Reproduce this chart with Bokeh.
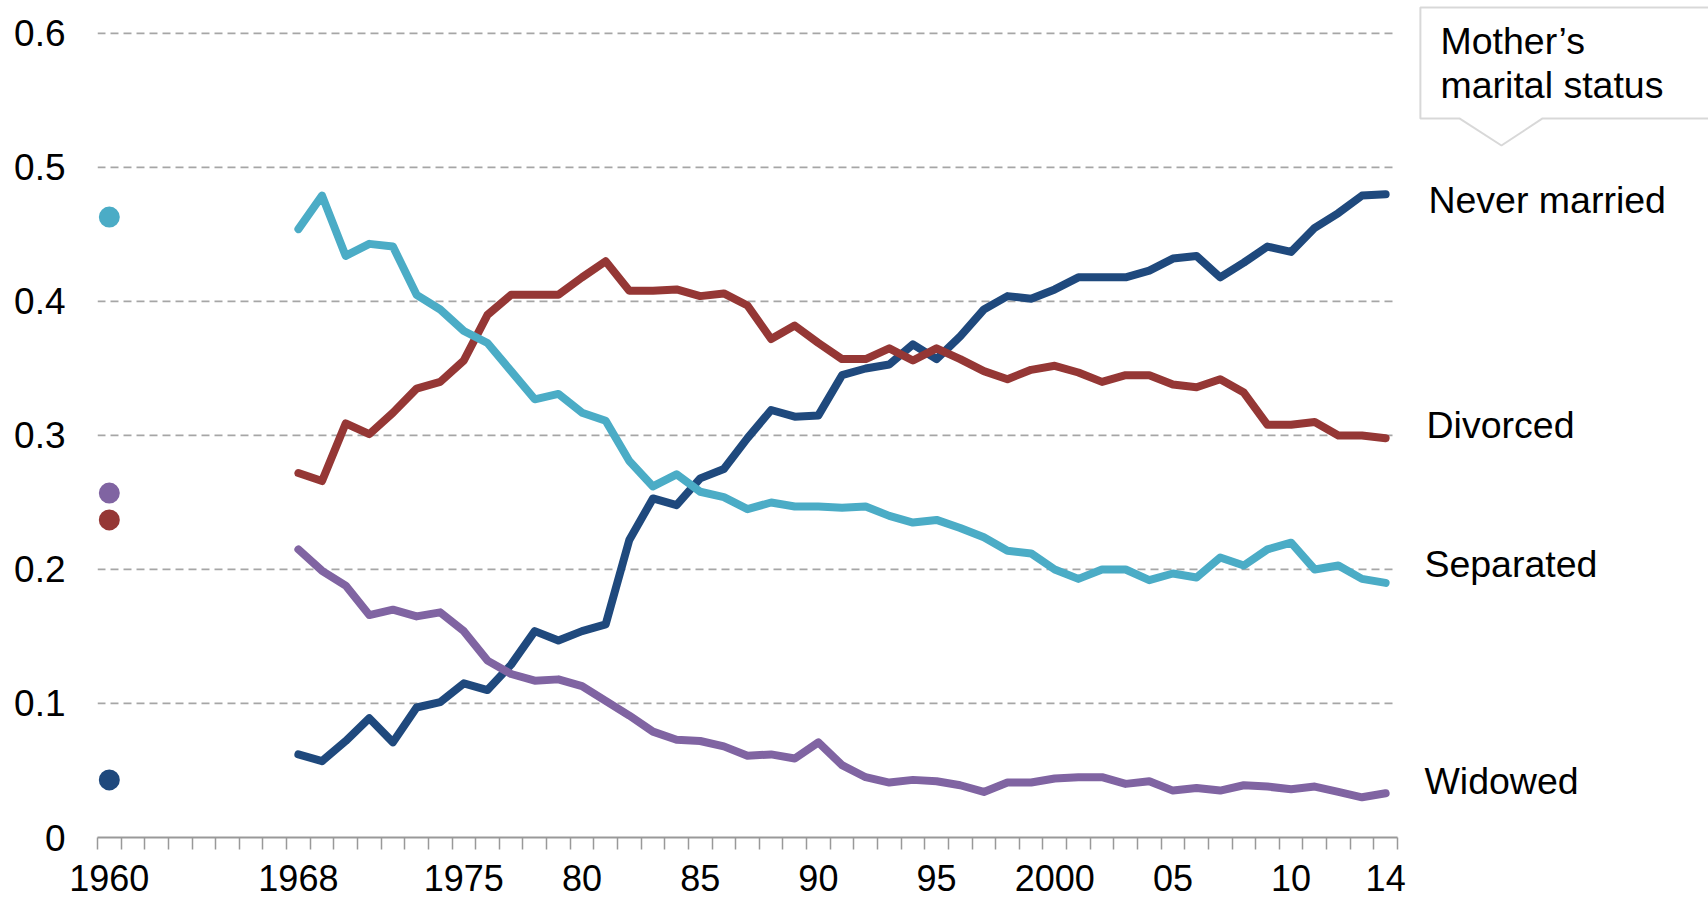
from bokeh.plotting import figure
from bokeh.models import Range1d, FixedTicker, Label, PolyAnnotation
from bokeh.embed import file_html
from bokeh.resources import INLINE

# ---- data ----
years = list(range(1968, 2015))
never_married = [0.062, 0.057, 0.072, 0.089, 0.071, 0.097, 0.101, 0.115, 0.110, 0.129,
                 0.154, 0.147, 0.154, 0.159, 0.222, 0.253, 0.248, 0.268, 0.275, 0.298,
                 0.319, 0.314, 0.315, 0.345, 0.350, 0.353, 0.368, 0.357, 0.374, 0.394,
                 0.404, 0.402, 0.409, 0.418, 0.418, 0.418, 0.423, 0.432, 0.434, 0.418,
                 0.429, 0.441, 0.437, 0.455, 0.466, 0.479, 0.480]
divorced = [0.272, 0.266, 0.309, 0.301, 0.317, 0.335, 0.340, 0.356, 0.390, 0.405,
            0.405, 0.405, 0.418, 0.430, 0.408, 0.408, 0.409, 0.404, 0.406, 0.397,
            0.372, 0.382, 0.369, 0.357, 0.357, 0.365, 0.356, 0.365, 0.357, 0.348,
            0.342, 0.349, 0.352, 0.347, 0.340, 0.345, 0.345, 0.338, 0.336, 0.342,
            0.332, 0.308, 0.308, 0.310, 0.300, 0.300, 0.298]
separated = [0.454, 0.479, 0.434, 0.443, 0.441, 0.405, 0.394, 0.378, 0.369, 0.348,
             0.327, 0.331, 0.317, 0.311, 0.281, 0.262, 0.271, 0.258, 0.254, 0.245,
             0.250, 0.247, 0.247, 0.246, 0.247, 0.240, 0.235, 0.237, 0.231, 0.224,
             0.214, 0.212, 0.200, 0.193, 0.200, 0.200, 0.192, 0.197, 0.194, 0.209,
             0.203, 0.215, 0.220, 0.200, 0.203, 0.193, 0.190]
widowed = [0.215, 0.199, 0.188, 0.166, 0.170, 0.165, 0.168, 0.154, 0.132, 0.122,
           0.117, 0.118, 0.113, 0.102, 0.091, 0.079, 0.073, 0.072, 0.068, 0.061,
           0.062, 0.059, 0.071, 0.054, 0.045, 0.041, 0.043, 0.042, 0.039, 0.034,
           0.041, 0.041, 0.044, 0.045, 0.045, 0.040, 0.042, 0.035, 0.037, 0.035,
           0.039, 0.038, 0.036, 0.038, 0.034, 0.030, 0.033]

year_1960 = [1960]
never_married_1960 = [0.043]
divorced_1960 = [0.237]
separated_1960 = [0.463]
widowed_1960 = [0.257]

series_names = ["Never married", "Divorced", "Separated", "Widowed"]
series_colors = ["#1F497D", "#953735", "#4BACC6", "#8064A2"]

x_tick_years = [1960, 1968, 1975, 1980, 1985, 1990, 1995, 2000, 2005, 2010, 2014]
x_tick_labels = ["1960", "1968", "1975", "80", "85", "90", "95", "2000", "05", "10", "14"]
y_ticks = [0.0, 0.1, 0.2, 0.3, 0.4, 0.5, 0.6]
y_tick_labels = ["0", "0.1", "0.2", "0.3", "0.4", "0.5", "0.6"]

# ---- layout / styles ----
FONT = "Liberation Sans"
FS = "36px"
FS_LABEL = "37.5px"
GRID = "#A6A6A6"
AXIS = "#999999"
X_START, X_END = 1959.5, 2014.5

p = figure(width=1708, height=900, output_backend="svg", toolbar_location=None,
           x_range=Range1d(X_START, 2027.66), y_range=Range1d(0, 0.6246),
           min_border_left=97, min_border_right=0, min_border_top=0, min_border_bottom=63)
p.outline_line_color = None
p.background_fill_color = "white"
p.border_fill_color = "white"

# x axis
p.xaxis.ticker = FixedTicker(ticks=x_tick_years,
                             minor_ticks=[X_START + i for i in range(56)])
p.xaxis.bounds = (X_START, X_END)
p.xaxis.major_label_overrides = dict(zip(x_tick_years, x_tick_labels))
p.xaxis.axis_line_color = AXIS
p.xaxis.axis_line_width = 2
p.xaxis.major_tick_line_color = None
p.xaxis.major_tick_out = 0
p.xaxis.major_tick_in = 0
p.xaxis.minor_tick_line_color = AXIS
p.xaxis.minor_tick_line_width = 1.5
p.xaxis.minor_tick_out = 12
p.xaxis.minor_tick_in = 0
p.xaxis.major_label_standoff = 15
p.xaxis.major_label_text_font = FONT
p.xaxis.major_label_text_font_size = FS
p.xaxis.major_label_text_color = "black"

# y axis
p.yaxis.ticker = FixedTicker(ticks=y_ticks)
p.yaxis.major_label_overrides = dict(zip(y_ticks, y_tick_labels))
p.yaxis.axis_line_color = None
p.yaxis.major_tick_line_color = None
p.yaxis.minor_tick_line_color = None
p.yaxis.major_tick_out = 0
p.yaxis.major_tick_in = 0
p.yaxis.major_label_standoff = 32
p.yaxis.major_label_text_font = FONT
p.yaxis.major_label_text_font_size = "37px"
p.yaxis.major_label_text_color = "black"

# grid lines only over the data span
p.xgrid.grid_line_color = None
p.ygrid.grid_line_color = None
grid_vals = y_ticks[1:]
p.segment(x0=[X_START] * len(grid_vals), x1=[X_END] * len(grid_vals),
          y0=grid_vals, y1=grid_vals, line_color=GRID, line_width=1.75, line_dash="8 5")

# ---- lines ----
series_values = [never_married, divorced, separated, widowed]
for vals, col in zip(series_values, series_colors):
    p.line(years, vals, line_color=col, line_width=8, line_cap="round", line_join="round")

points_1960 = [never_married_1960, divorced_1960, separated_1960, widowed_1960]
for vals, col in zip(points_1960, series_colors):
    p.scatter(year_1960, vals, size=21, fill_color=col, line_color=None)

# ---- series labels ----
label_x = [2015.81, 2015.73, 2015.64, 2015.64]
label_y = [0.476, 0.308, 0.204, 0.042]
for name, lx, ly in zip(series_names, label_x, label_y):
    p.add_layout(Label(x=lx, y=ly, text=name, text_font=FONT, text_font_size=FS_LABEL,
                       text_color="black", text_baseline="middle", text_align="left"))

# ---- callout box ----
box_xs = [2015.47, 2029.0, 2029.0, 2020.64, 2018.90, 2017.12, 2015.47]
box_ys = [0.6194, 0.6194, 0.5366, 0.5366, 0.5164, 0.5366, 0.5366]
p.add_layout(PolyAnnotation(xs=box_xs, ys=box_ys, fill_color="white", fill_alpha=1.0,
                            line_color="#7F7F7F", line_width=2))
p.add_layout(Label(x=2016.32, y=0.5947, text="Mother\u2019s", text_font=FONT,
                   text_font_size=FS_LABEL, text_color="black", text_baseline="alphabetic"))
p.add_layout(Label(x=2016.32, y=0.5612, text="marital status", text_font=FONT,
                   text_font_size=FS_LABEL, text_color="black", text_baseline="alphabetic"))

open("out.html", "w").write(file_html(p, INLINE))
